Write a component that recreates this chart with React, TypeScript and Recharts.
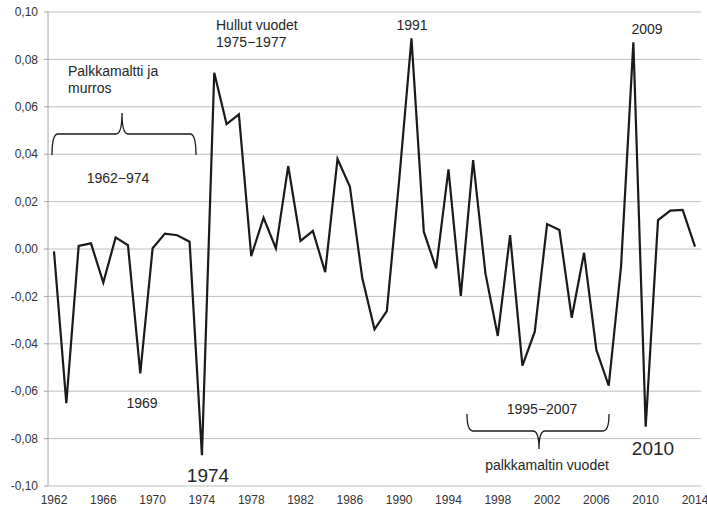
import { LineChart, Line, XAxis, YAxis, CartesianGrid, Customized } from 'recharts';

const years = [
  1962, 1963, 1964, 1965, 1966, 1967, 1968, 1969, 1970, 1971, 1972, 1973, 1974,
  1975, 1976, 1977, 1978, 1979, 1980, 1981, 1982, 1983, 1984, 1985, 1986, 1987,
  1988, 1989, 1990, 1991, 1992, 1993, 1994, 1995, 1996, 1997, 1998, 1999, 2000,
  2001, 2002, 2003, 2004, 2005, 2006, 2007, 2008, 2009, 2010, 2011, 2012, 2013, 2014,
];

const values = [
  -0.001, -0.065, 0.0013, 0.0024, -0.0142, 0.0049, 0.0016, -0.0525, 0.0003, 0.0065,
  0.0058, 0.0031, -0.087, 0.0744, 0.0527, 0.0568, -0.003, 0.0132, 0.0003, 0.035,
  0.0034, 0.0076, -0.0098, 0.038, 0.0264, -0.012, -0.0339, -0.0262, 0.029, 0.0889,
  0.0073, -0.0082, 0.0336, -0.0198, 0.0375, -0.0103, -0.0367, 0.0059, -0.0492,
  -0.0349, 0.0105, 0.008, -0.029, -0.0016, -0.0426, -0.0577, -0.0075, 0.0872,
  -0.075, 0.0122, 0.0162, 0.0165, 0.001,
];

const yTicks = [-0.1, -0.08, -0.06, -0.04, -0.02, 0, 0.02, 0.04, 0.06, 0.08, 0.1];

const data = years.map((y, i) => ({ year: y, v: values[i] }));

const fmt = (v: number) => v.toFixed(2).replace('.', ',');

const txt = '#262626';
const font = "'Liberation Sans', Arial, sans-serif";

function Notes() {
  return (
    <g fontFamily={font} fill={txt}>
      <text x={216} y={25} fontSize={14} dominantBaseline="central">Hullut vuodet</text>
      <text x={216} y={42} fontSize={14} dominantBaseline="central">1975−1977</text>
      <text x={68} y={71} fontSize={14} dominantBaseline="central">Palkkamaltti ja</text>
      <text x={68} y={88} fontSize={14} dominantBaseline="central">murros</text>
      <text x={118} y={178} fontSize={14} textAnchor="middle" dominantBaseline="central">1962−974</text>
      <text x={412} y={25} fontSize={14} textAnchor="middle" dominantBaseline="central">1991</text>
      <text x={647} y={29} fontSize={14} textAnchor="middle" dominantBaseline="central">2009</text>
      <text x={142} y={403} fontSize={14} textAnchor="middle" dominantBaseline="central">1969</text>
      <text x={208} y={475} fontSize={19} textAnchor="middle" dominantBaseline="central">1974</text>
      <text x={542} y={409} fontSize={14} textAnchor="middle" dominantBaseline="central">1995−2007</text>
      <text x={547} y={465} fontSize={14} textAnchor="middle" dominantBaseline="central">palkkamaltin vuodet</text>
      <text x={653} y={448} fontSize={19} textAnchor="middle" dominantBaseline="central">2010</text>
      <path
        d="M52,155 Q52,134 58,134 L116,134 Q122,134 122,113 Q122,134 128,134 L190,134 Q196,134 196,155"
        fill="none"
        stroke="#1a1a1a"
        strokeWidth={1.3}
      />
      <path
        d="M467,414 Q467,431 473,431 L533,431 Q539,431 539,449 Q539,431 545,431 L603,431 Q609,431 609,414"
        fill="none"
        stroke="#1a1a1a"
        strokeWidth={1.3}
      />
    </g>
  );
}

export default function App() {
  return (
    <div style={{ position: 'absolute', left: 0, top: 0, width: 707, height: 509, background: '#fff' }}>
      <LineChart width={707} height={509} data={data} margin={{ top: 12, right: 6, bottom: 0, left: 0 }}>
        <CartesianGrid vertical={false} stroke="#bfbfbf" strokeWidth={1} />
        <XAxis
          dataKey="year"
          type="category"
          interval={3}
          padding={{ left: 6, right: 6 }}
          axisLine={false}
          tickLine={false}
          tickSize={0}
          tickMargin={9}
          height={23}
          tick={{ fontSize: 12, fill: '#333', fontFamily: font }}
        />
        <YAxis
          domain={[-0.1, 0.1]}
          ticks={yTicks}
          tickFormatter={fmt}
          width={48}
          tickSize={4}
          tickMargin={6}
          axisLine={{ stroke: '#a6a6a6' }}
          tickLine={{ stroke: '#a6a6a6' }}
          tick={{ fontSize: 12, fill: '#333', fontFamily: font }}
        />
        <Line
          type="linear"
          dataKey="v"
          stroke="#1a1a1a"
          strokeWidth={2.2}
          dot={false}
          isAnimationActive={false}
        />
        <Customized component={Notes} />
      </LineChart>
    </div>
  );
}
